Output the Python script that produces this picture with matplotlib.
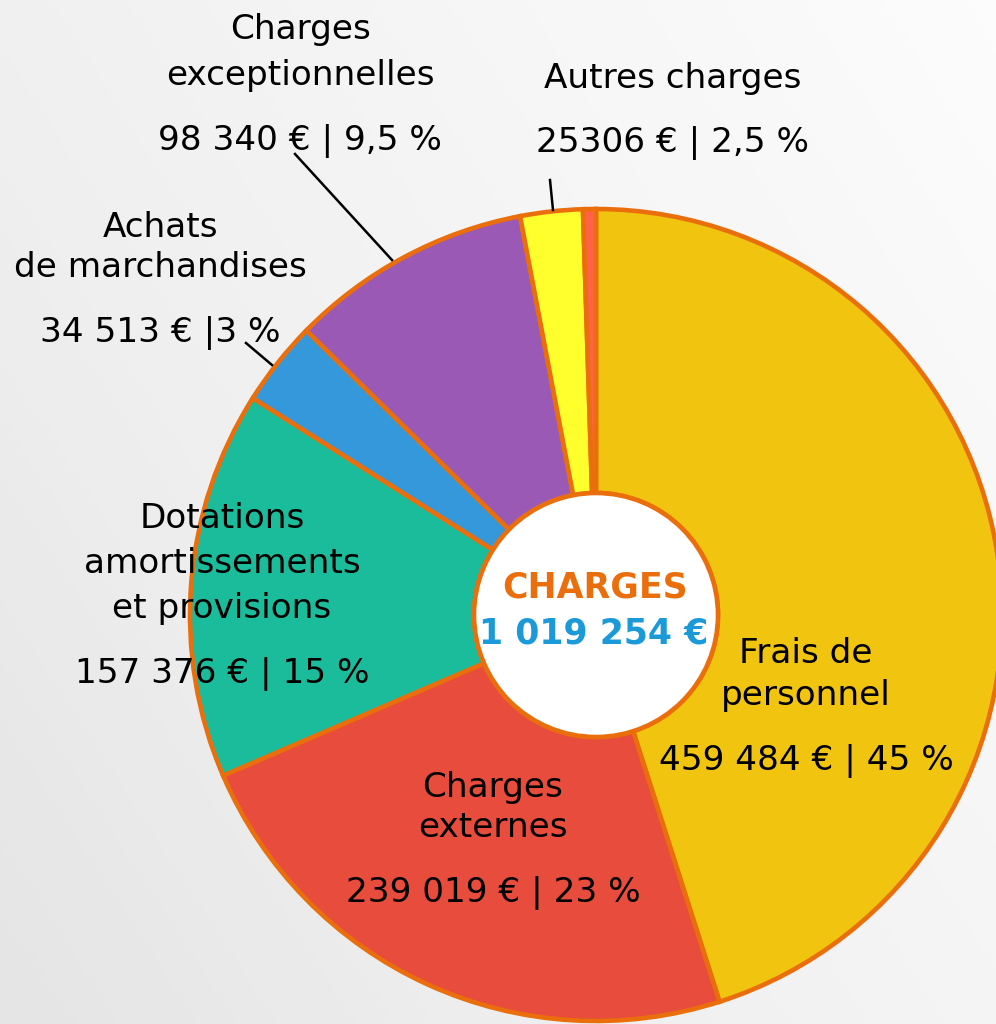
import numpy as np
import matplotlib
matplotlib.use('Agg')
import matplotlib.pyplot as plt
from matplotlib.patches import Circle

# Données
categories = ['Frais de\npersonnel', 'Charges\nexternes',
              'Dotations\namortissements\net provisions',
              'Achats\nde marchandises', 'Charges\nexceptionnelles',
              'Autres charges', '']
valeurs = [459484, 239019, 157376, 34513, 98340, 25306, 5216]
etiquettes_valeurs = ['459 484 € | 45 %', '239 019 € | 23 %', '157 376 € | 15 %',
                      '34 513 € |3 %', '98 340 € | 9,5 %', '25306 € | 2,5 %', '']
total_texte = '1 019 254 €'
couleurs = ['#F1C40F', '#E74C3C', '#1ABC9C', '#3498DB', '#9B59B6', '#FFFF2E', '#FF6347']

ORANGE = '#EA6F0C'
BLEU = '#1A9AD9'
W, H = 996, 1024

# position des textes (x centre, lignes de base en pixels depuis le haut)
pos_labels = [
    (806, [663, 705], 770),
    (493, [797, 837], 902),
    (222, [528, 573, 618], 683),
    (160, [237, 277], 342),
    (300, [39, 85], 150),
    (673, [88], 152),
    None,
]
# traits de rappel (x1, y1, x2, y2) en pixels
traits = [(246, 343, 272, 365), (295, 154, 392, 260), (550, 180, 553, 210)]

fig = plt.figure(figsize=(W / 100, H / 100), dpi=100)
ax = fig.add_axes([0, 0, 1, 1])

# fond en dégradé
gx, gy = np.meshgrid(np.linspace(0, 1, 200), np.linspace(0, 1, 200))
grad = 0.6 * gx + 0.4 * gy
ax.imshow(grad, extent=(0, W, 0, H), origin='lower', cmap='Greys_r',
          vmin=-5.0, vmax=1.15, zorder=0, aspect='auto')

cx, cy = 596, H - 615
R, r = 406, 122
ax.pie(valeurs, colors=couleurs, startangle=90, counterclock=False,
       radius=R, center=(cx, cy),
       wedgeprops=dict(width=R - r, edgecolor=ORANGE, linewidth=3.3))
ax.add_patch(Circle((cx, cy), r, facecolor='white', edgecolor=ORANGE,
                    linewidth=3.3, zorder=3))

ax.text(cx - 1, H - 597, 'CHARGES', ha='center', va='baseline', fontsize=25,
        fontweight='bold', color=ORANGE, zorder=4)
ax.text(cx - 2, H - 643, total_texte, ha='center', va='baseline', fontsize=25,
        fontweight='bold', color=BLEU, zorder=4)

for cat, val, pos in zip(categories, etiquettes_valeurs, pos_labels):
    if pos is None:
        continue
    x, lignes, yv = pos
    for texte, yb in zip(cat.split('\n'), lignes):
        ax.text(x, H - yb, texte, ha='center', va='baseline', fontsize=24.7,
                color='black', zorder=4)
    ax.text(x, H - yv, val, ha='center', va='baseline', fontsize=24.7,
            color='black', zorder=4)

for x1, y1, x2, y2 in traits:
    ax.plot([x1, x2], [H - y1, H - y2], color='black', linewidth=1.8, zorder=2)

ax.set_xlim(0, W)
ax.set_ylim(0, H)
ax.set_aspect('auto')
ax.axis('off')

plt.savefig('out.png', dpi=100)
